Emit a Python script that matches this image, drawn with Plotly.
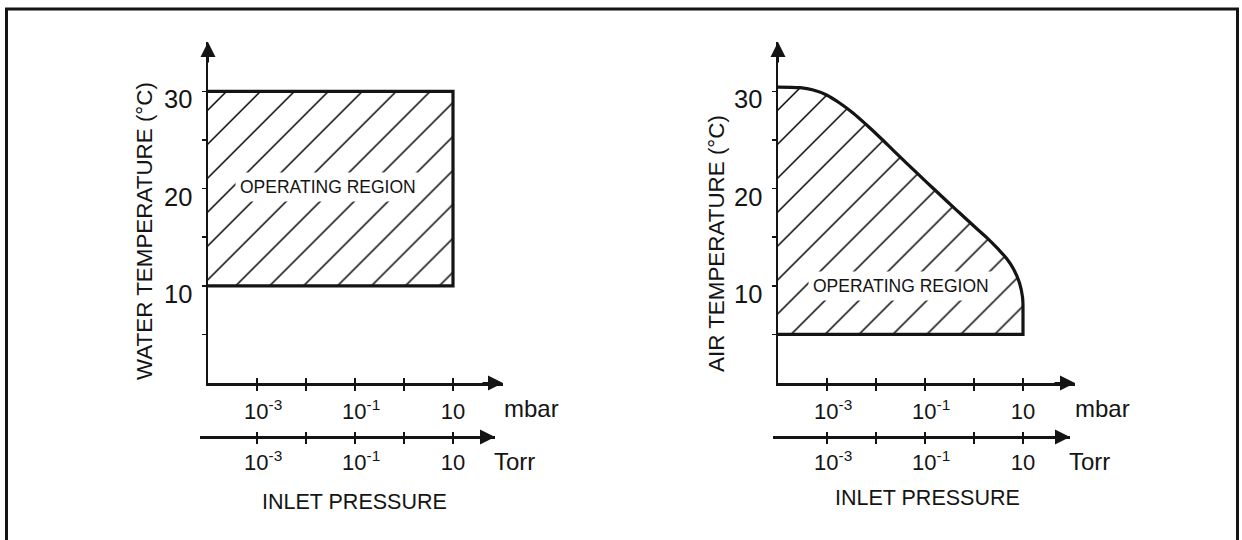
import numpy as np
import plotly.graph_objects as go

# ---------------- data ----------------
pressure_ticks = [1e-3, 1e-2, 1e-1, 1, 10]
pressure_tick_text = ["\u00a0\u00a010<sup>-3</sup>", "", "\u00a0\u00a010<sup>-1</sup>", "", "10"]
temp_ticks = [5, 10, 15, 20, 25, 30]
temp_tick_text = ["", "10", "", "20", "", "30"]

# Water cooled: operating region (mbar, degC)
water_p = [1e-4, 10, 10, 1e-4]
water_t = [30, 30, 10, 10]

# Air cooled: boundary curve of the operating region (mbar, degC)
air_curve_p = [1e-4, 2.82e-4, 5.25e-4, 9.8e-4, 1.84e-3, 3.44e-3, 6.46e-3, 1.21e-2,
               2.25e-2, 4.24e-2, 7.9e-2, 0.148, 0.277, 0.518, 0.968, 1.82, 3.09,
               4.71, 6.40, 8.49, 9.77, 10]
air_curve_t = [30.45, 30.38, 30.14, 29.63, 28.78, 27.75, 26.54, 25.26,
               23.94, 22.6, 21.3, 20.01, 18.72, 17.46, 16.2, 14.95, 13.79,
               12.76, 11.73, 10.29, 8.85, 7.5]
# Air cooled: lower edge of the operating region
air_base_p = [10, 10, 1e-4]
air_base_t = [7.5, 5, 5]

region_label = "OPERATING REGION"
water_label_pos = (0.028, 20.2)
air_label_pos = (0.032, 10.0)

# ---------------- layout geometry (pixels) ----------------
W, H = 1242, 540
DEC = 49.0      # px per decade
DEG = 9.72      # px per degC
INK = "#141414"
FONT = "Liberation Sans, Arial, Helvetica, sans-serif"


def px(x):
    return x / W


def py(y):
    return 1 - y / H


panels = [
    dict(x0=208, xtip=503, tx0=200, ttip=495, base=383, ytip=42, torr_y=437,
         ytitle="WATER TEMPERATURE (°C)", ytitle_xy=(144, 231),
         mbar_x=502, torr_x=492, inlet_xy=(354, 502),
         regions=[(water_p, water_t)], outline=[(water_p, water_t, "linear")],
         label=water_label_pos),
    dict(x0=778, xtip=1075, tx0=773, ttip=1070, base=383, ytip=42, torr_y=437,
         ytitle="AIR TEMPERATURE (°C)", ytitle_xy=(716, 244),
         mbar_x=1073, torr_x=1067, inlet_xy=(927, 498),
         regions=[(air_curve_p + air_base_p[1:], air_curve_t + air_base_t[1:])],
         outline=[(air_curve_p, air_curve_t, "spline"), (air_base_p, air_base_t, "linear")],
         label=air_label_pos),
]

fig = go.Figure()
layout = dict(
    width=W, height=H,
    margin=dict(l=0, r=0, t=0, b=0),
    paper_bgcolor="white", plot_bgcolor="rgba(0,0,0,0)",
    showlegend=False,
    font=dict(family=FONT, color=INK, size=20),
)
annotations = []

for i, pn in enumerate(panels):
    k = 4 * i
    xa = [f"x{k + j + 1}" if (k + j) > 0 else "x" for j in range(4)]
    ya = "y" if i == 0 else "y2"
    xa_key = [("xaxis" if n == "x" else "xaxis" + n[1:]) for n in xa]
    ya_key = "yaxis" if ya == "y" else "yaxis2"

    xr = [-4, -4 + (pn["xtip"] - pn["x0"]) / DEC]
    tr = [-4 + (pn["tx0"] - pn["x0"]) / DEC, -4 + (pn["ttip"] - pn["x0"]) / DEC]
    xdom = [px(pn["x0"]), px(pn["xtip"])]
    tdom = [px(pn["tx0"]), px(pn["ttip"])]
    ydom = [py(pn["base"]), py(pn["ytip"])]
    yr = [0, (pn["base"] - pn["ytip"]) / DEG]

    common = dict(type="log", tickvals=pressure_ticks, showgrid=False, zeroline=False,
                  tickcolor=INK, tickwidth=1.5, ticklen=5, fixedrange=True)
    layout[xa_key[0]] = dict(common, domain=xdom, range=xr, anchor=ya, ticks="outside",
                             ticktext=pressure_tick_text, tickfont=dict(size=22),
                             ticklabelstandoff=2,
                             showline=True, linewidth=2.5, linecolor=INK)
    layout[xa_key[1]] = dict(common, domain=xdom, range=xr, anchor=ya, overlaying=xa[0],
                             ticks="inside", showticklabels=False, showline=False)
    layout[xa_key[2]] = dict(common, domain=tdom, range=tr, anchor="free",
                             position=py(pn["torr_y"]), ticks="outside",
                             ticktext=pressure_tick_text, tickfont=dict(size=22),
                             ticklabelstandoff=0,
                             showline=True, linewidth=2.5, linecolor=INK)
    layout[xa_key[3]] = dict(common, domain=tdom, range=tr, anchor="free", overlaying=xa[2],
                             position=py(pn["torr_y"]), ticks="inside",
                             showticklabels=False, showline=False)
    layout[ya_key] = dict(domain=ydom, range=yr, anchor=xa[0], tickvals=temp_ticks,
                          ticktext=temp_tick_text, ticks="outside", ticklen=4,
                          tickwidth=1.5, tickcolor=INK, tickfont=dict(size=25.5),
                          ticklabelstandoff=4, ticklabelshift=8,
                          showline=True, linewidth=2.5, linecolor=INK,
                          showgrid=False, zeroline=False, fixedrange=True)

    # hatched operating region (fill only)
    for rp, rt in pn["regions"]:
        fig.add_trace(go.Scatter(
            x=rp, y=rt, xaxis=xa[0], yaxis=ya, mode="lines",
            fill="toself", fillcolor="white",
            fillpattern=dict(shape="/", size=24, solidity=0.06, fgcolor="#000",
                             fgopacity=1, bgcolor="white"),
            line=dict(width=0), hoverinfo="skip"))
    # heavy outline of the region
    for op, ot, shape in pn["outline"]:
        fig.add_trace(go.Scatter(
            x=op, y=ot, xaxis=xa[0], yaxis=ya, mode="lines",
            line=dict(color=INK, width=3.2, shape=shape, smoothing=1.0), hoverinfo="skip"))
    for n in xa[1:]:
        fig.add_trace(go.Scatter(x=[None], y=[None], xaxis=n, yaxis=ya,
                                 mode="lines", hoverinfo="skip"))

    # region label
    annotations.append(dict(xref=xa[0], yref=ya, x=np.log10(pn["label"][0]), y=pn["label"][1],
                            xanchor="center", yanchor="middle",
                            text=region_label, showarrow=False, bgcolor="white",
                            borderpad=4, font=dict(size=17.5)))
    # arrow heads on axes
    arrow = dict(text="", showarrow=True, arrowhead=2, arrowsize=1.5, arrowwidth=2,
                 arrowcolor=INK, xref="paper", yref="paper")
    annotations.append(dict(arrow, x=px(pn["xtip"]), y=py(pn["base"]), ax=-22, ay=0))
    annotations.append(dict(arrow, x=px(pn["ttip"]), y=py(pn["torr_y"]), ax=-22, ay=0))
    annotations.append(dict(arrow, x=px(pn["x0"]), y=py(pn["ytip"]), ax=0, ay=22))
    # axis titles / units
    txt = dict(xref="paper", yref="paper", showarrow=False, yanchor="middle")
    annotations.append(dict(txt, x=px(pn["ytitle_xy"][0]), y=py(pn["ytitle_xy"][1]),
                            xanchor="center", text=pn["ytitle"], textangle=-90,
                            font=dict(size=22.4)))
    annotations.append(dict(txt, x=px(pn["mbar_x"]), y=py(408), xanchor="left",
                            text="mbar", font=dict(size=24)))
    annotations.append(dict(txt, x=px(pn["torr_x"]), y=py(461), xanchor="left",
                            text="Torr", font=dict(size=24)))
    annotations.append(dict(txt, x=px(pn["inlet_xy"][0]), y=py(pn["inlet_xy"][1]),
                            xanchor="center", text="INLET PRESSURE", font=dict(size=21.5)))

layout["annotations"] = annotations
layout["shapes"] = [dict(type="rect", xref="paper", yref="paper",
                         x0=px(6.5), x1=px(1237.5), y0=-0.2, y1=py(9),
                         line=dict(color=INK, width=3))]
fig.update_layout(**layout)
fig.write_html("out.html",
               config={"displayModeBar": False, "staticPlot": True},
               post_script="document.body.style.margin='0px';"
                           "document.body.style.overflow='hidden';")
